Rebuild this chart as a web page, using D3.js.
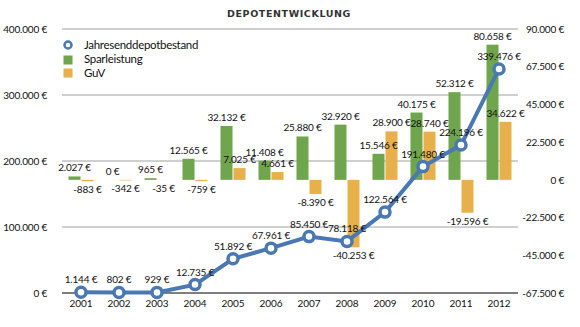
<!DOCTYPE html>
<html>
<head>
<meta charset="utf-8">
<script src="https://cdn.jsdelivr.net/npm/d3@7"></script>
<style>
  body { margin: 0; background: #fff; }
  svg text { font-family: "Lato", "Open Sans", sans-serif; fill: #111; }
</style>
</head>
<body>
<svg id="chart" width="580" height="327"></svg>
<script>
// Jahreswerte des Depots
var years = ["2001", "2002", "2003", "2004", "2005", "2006", "2007", "2008", "2009", "2010", "2011", "2012"];
var depotbestand = [1144, 802, 929, 12735, 51892, 67961, 85450, 78118, 122564, 191480, 224196, 339476];
var sparleistung = [2027, 0, 965, 12565, 32132, 11408, 25880, 32920, 15546, 40175, 52312, 80658];
var guv = [-883, -342, -35, -759, 7025, 4661, -8390, -40253, 28900, 28740, -19596, 34622];

var leftTicks = [0, 100000, 200000, 300000, 400000];
var rightTicks = [-67500, -45000, -22500, 0, 22500, 45000, 67500, 90000];

var colBlue = "#4a78b3";
var colGreen = "#6fa54c";
var colOrange = "#e8b04b";

var svg = d3.select("#chart");
var margin = { left: 62, right: 62, top: 29, bottom: 34 };
var width = +svg.attr("width");
var height = +svg.attr("height");
var labelSize = 10;

// German number format: 12.345 €
var fmt = function(v) {
  return d3.format(",")(v).replace(/,/g, ".").replace("−", "-") + " €";
};

var x = d3.scaleBand()
    .domain(years)
    .range([margin.left, width - margin.right]);

var yLeft = d3.scaleLinear()
    .domain([0, 400000])
    .range([height - margin.bottom, margin.top]);

var yRight = d3.scaleLinear()
    .domain([-67500, 90000])
    .range([height - margin.bottom, margin.top]);

var barW = 12, barGap = 1;

// Gridlines
svg.append("g")
  .selectAll("line")
  .data(leftTicks.filter(function(d) { return d > 0; }))
  .enter().append("line")
    .attr("x1", margin.left)
    .attr("x2", width - margin.right)
    .attr("y1", function(d) { return yLeft(d); })
    .attr("y2", function(d) { return yLeft(d); })
    .attr("stroke", "#a0a0a0")
    .attr("stroke-width", 1);

// Left axis
var axisL = svg.append("g")
    .attr("transform", "translate(" + (margin.left - 12) + ",0)")
    .call(d3.axisLeft(yLeft).tickValues(leftTicks).tickFormat(fmt).tickSize(0));
axisL.select(".domain").remove();

// Right axis
var axisR = svg.append("g")
    .attr("transform", "translate(" + (width - 13) + ",0)")
    .call(d3.axisLeft(yRight).tickValues(rightTicks).tickFormat(fmt).tickSize(0));
axisR.select(".domain").remove();

svg.selectAll(".tick text")
    .attr("font-size", labelSize)
    .attr("letter-spacing", -0.2)
    .attr("font-family", "Lato, sans-serif")
    .attr("fill", "#111");

// Green bars
svg.append("g")
  .selectAll("rect")
  .data(sparleistung)
  .enter().append("rect")
    .attr("x", function(d, i) { return x(years[i]) + x.bandwidth() / 2 - barW - barGap / 2; })
    .attr("width", barW)
    .attr("y", function(d) { return yRight(Math.max(d, 0)); })
    .attr("height", function(d) { return Math.abs(yRight(d) - yRight(0)); })
    .attr("fill", colGreen);

// Orange bars
svg.append("g")
  .selectAll("rect")
  .data(guv)
  .enter().append("rect")
    .attr("x", function(d, i) { return x(years[i]) + x.bandwidth() / 2 + barGap / 2; })
    .attr("width", barW)
    .attr("y", function(d) { return yRight(Math.max(d, 0)); })
    .attr("height", function(d) { return Math.abs(yRight(d) - yRight(0)); })
    .attr("fill", colOrange);

// Bar labels
svg.append("g")
  .selectAll("text")
  .data(sparleistung)
  .enter().append("text")
    .attr("x", function(d, i) { return x(years[i]) + x.bandwidth() / 2 - barW / 2 - barGap / 2; })
    .attr("y", function(d) { return yRight(Math.max(d, 0)) - 5; })
    .attr("text-anchor", "middle")
    .attr("font-size", labelSize)
    .attr("letter-spacing", -0.2)
    .text(fmt);

svg.append("g")
  .selectAll("text")
  .data(guv)
  .enter().append("text")
    .attr("x", function(d, i) { return x(years[i]) + x.bandwidth() / 2 + barW / 2 + barGap / 2; })
    .attr("y", function(d) { return d >= 0 ? yRight(d) - 5 : yRight(d) + 12; })
    .attr("text-anchor", "middle")
    .attr("font-size", labelSize)
    .attr("letter-spacing", -0.2)
    .text(fmt);

// Baseline
svg.append("line")
    .attr("x1", margin.left)
    .attr("x2", width - margin.right)
    .attr("y1", yLeft(0))
    .attr("y2", yLeft(0))
    .attr("stroke", "#000")
    .attr("stroke-width", 1.2);

// X axis labels
svg.append("g")
  .selectAll("text")
  .data(years)
  .enter().append("text")
    .attr("x", function(d) { return x(d) + x.bandwidth() / 2; })
    .attr("y", height - margin.bottom + 14)
    .attr("text-anchor", "middle")
    .attr("font-size", labelSize)
    .text(function(d) { return d; });

// Depot line
var line = d3.line()
    .x(function(d, i) { return x(years[i]) + x.bandwidth() / 2; })
    .y(function(d) { return yLeft(d); });

svg.append("path")
    .datum(depotbestand)
    .attr("d", line)
    .attr("fill", "none")
    .attr("stroke", colBlue)
    .attr("stroke-width", 4);

svg.append("g")
  .selectAll("circle")
  .data(depotbestand)
  .enter().append("circle")
    .attr("cx", function(d, i) { return x(years[i]) + x.bandwidth() / 2; })
    .attr("cy", function(d) { return yLeft(d); })
    .attr("r", 5)
    .attr("fill", "#fff")
    .attr("stroke", colBlue)
    .attr("stroke-width", 3.5);

svg.append("g")
  .selectAll("text")
  .data(depotbestand)
  .enter().append("text")
    .attr("x", function(d, i) { return x(years[i]) + x.bandwidth() / 2; })
    .attr("y", function(d) { return yLeft(d) - 9; })
    .attr("text-anchor", "middle")
    .attr("font-size", labelSize)
    .attr("letter-spacing", -0.2)
    .text(fmt);

// Title
svg.append("text")
    .attr("x", 289)
    .attr("y", 17)
    .attr("text-anchor", "middle")
    .attr("font-size", 9.5)
    .attr("font-weight", "bold")
    .attr("letter-spacing", 0.6)
    .style("font-family", "DejaVu Sans, sans-serif")
    .style("fill", "#333")
    .text("DEPOTENTWICKLUNG");

// Legend
var legend = svg.append("g").attr("transform", "translate(68,45)");

legend.append("circle")
    .attr("r", 3.5)
    .attr("fill", "#fff")
    .attr("stroke", colBlue)
    .attr("stroke-width", 2.5);

legend.append("rect")
    .attr("x", -4.5).attr("y", 10.5)
    .attr("width", 9).attr("height", 9)
    .attr("fill", colGreen);

legend.append("rect")
    .attr("x", -4.5).attr("y", 23.5)
    .attr("width", 9).attr("height", 9)
    .attr("fill", colOrange);

legend.selectAll("text")
  .data(["Jahresenddepotbestand", "Sparleistung", "GuV"])
  .enter().append("text")
    .attr("x", 16)
    .attr("y", function(d, i) { return 4 + i * 14; })
    .attr("font-size", 11.5)
    .attr("letter-spacing", -0.3)
    .text(function(d) { return d; });
</script>
</body>
</html>
